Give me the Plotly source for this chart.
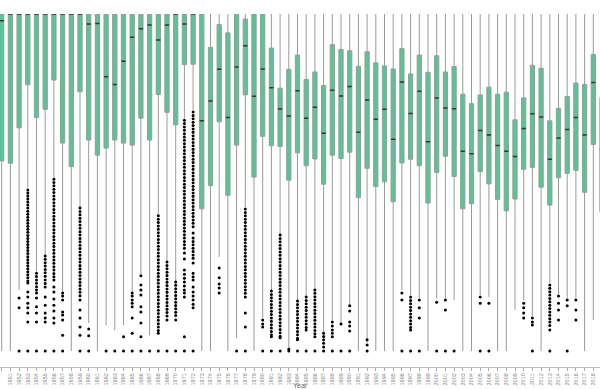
import plotly.graph_objects as go

years = [1950, 1951, 1952, 1953, 1954, 1955, 1956, 1957, 1958, 1959,
         1960, 1961, 1962, 1963, 1964, 1965, 1966, 1967, 1968, 1969,
         1970, 1971, 1972, 1973, 1974, 1975, 1976, 1977, 1978, 1979,
         1980, 1981, 1982, 1983, 1984, 1985, 1986, 1987, 1988, 1989,
         1990, 1991, 1992, 1993, 1994, 1995, 1996, 1997, 1998, 1999,
         2000, 2001, 2002, 2003, 2004, 2005, 2006, 2007, 2008, 2009,
         2010, 2011, 2012, 2013, 2014, 2015, 2016, 2017, 2018, 2019]

upper = [100.0] * 70

q3 = [100, 100, 100, 100, 100, 100, 100, 100, 100, 100,
      100, 100, 100, 100, 100, 100, 100, 100, 100, 100,
      100, 100, 100, 100, 90.1, 96.9, 94.4, 100, 98.5, 100,
      100, 89.9, 78.0, 83.6, 87.8, 80.6, 82.8, 78.8, 90.9, 89.5,
      89.1, 84.5, 88.8, 85.5, 84.6, 83.7, 89.7, 82.2, 87.8, 82.7,
      87.6, 82.8, 84.4, 76.2, 73.4, 76.0, 78.3, 76.2, 76.8, 68.6,
      75.1, 84.8, 83.9, 68.3, 72.0, 75.5, 79.5, 79.1, 88.0, 75.2]

median = [98.0, 100, 100, 100, 100, 100, 100, 100, 100, 100,
          97.0, 97.2, 81.4, 79.1, 86.0, 93.1, 95.6, 96.7, 92.3, 96.7,
          100, 97.0, 100, 68.3, 74.2, 83.6, 69.3, 84.3, 90.6, 75.6,
          83.7, 78.1, 71.8, 69.7, 77.2, 69.1, 72.3, 64.6, 77.4, 75.7,
          78.5, 64.9, 74.5, 68.8, 71.7, 62.8, 79.8, 70.5, 77.1, 62.1,
          75.1, 72.1, 71.9, 59.3, 58.5, 65.4, 64.1, 61.0, 59.3, 57.7,
          66.0, 70.4, 69.4, 56.9, 63.2, 65.7, 69.3, 64.1, 79.7, 59.6]

q1 = [56.4, 55.7, 66.2, 79.0, 69.3, 71.7, 80.4, 61.7, 54.7, 76.9,
      62.6, 58.1, 60.2, 62.6, 61.7, 61.1, 69.1, 62.6, 76.1, 70.8,
      67.1, 85.0, 85.1, 42.2, 49.1, 68.0, 46.2, 61.1, 76.0, 51.6,
      63.7, 60.9, 60.7, 50.7, 58.8, 55.0, 57.0, 49.5, 58.1, 57.1,
      59.0, 45.5, 54.2, 48.8, 50.2, 44.3, 55.8, 56.9, 55.0, 43.9,
      53.0, 57.8, 51.8, 42.2, 43.7, 53.3, 49.6, 45.0, 41.6, 45.1,
      53.9, 54.5, 48.6, 43.3, 51.4, 52.7, 53.6, 47.1, 61.3, 41.3]

lower = [0, 0, 18.1, 48.4, 23.7, 28.5, 51.3, 17.5, 0, 42.7,
         8.3, 0, 7.7, 6.2, 7.7, 17.5, 22.8, 4.7, 40.4, 26.7,
         20.8, 69.1, 71.5, 0, 0, 27.9, 0, 3.9, 42.7, 0,
         9.8, 18.1, 34.7, 1.2, 15.1, 16.3, 18.4, 5.6, 9.2, 8.3,
         13.6, 0, 2.4, 0, 0, 0, 18.1, 16.6, 15.7, 0,
         15.7, 15.7, 15.1, 0, 0, 16.6, 16.0, 0, 0, 12.2,
         15.1, 10.4, 0, 20.2, 16.9, 15.7, 15.7, 0, 9.2, 0]

# outlier values per year (same order as years)
outliers = [
    [], [],
    [15.7, 12.8, 0],
    [47.8, 46.9, 46.0, 45.1, 44.2, 43.3, 42.4, 41.5, 40.6, 39.7, 38.8, 37.9, 37.0, 36.1, 35.2, 34.3,
     33.4, 32.5, 31.6, 30.7, 29.8, 28.9, 28.0, 27.1, 26.2, 25.3, 24.4, 23.5, 22.6, 21.7, 20.8, 20.2,
     17.5, 16.0, 14.2, 12.8, 11.3, 8.6, 0],
    [23.1, 22.1, 21.1, 20.1, 19.1, 18.1, 17.2, 15.7, 13.1, 11.3, 8.6, 0],
    [28.2, 27.2, 26.2, 25.2, 24.2, 23.2, 22.2, 21.1, 20.0, 19.0, 16.0, 13.6, 11.3, 9.8, 8.6, 0],
    [51.0, 50.0, 49.0, 48.0, 47.0, 46.0, 45.0, 44.0, 43.0, 42.0, 41.0, 40.0, 39.0, 38.0, 37.0, 36.0,
     35.0, 34.0, 33.0, 32.0, 31.0, 30.0, 29.0, 28.0, 27.0, 26.0, 25.0, 24.0, 23.0, 22.0, 21.1,
     19.0, 17.5, 15.4, 13.6, 11.9, 9.8, 8.3, 0],
    [17.2, 16.3, 15.1, 11.6, 10.7, 9.2, 4.7, 0],
    [],
    [42.4, 41.4, 40.4, 39.4, 38.4, 37.4, 36.4, 35.4, 34.4, 33.4, 32.4, 31.4, 30.4, 29.4, 28.4, 27.4,
     26.4, 25.4, 24.4, 23.4, 22.4, 21.4, 20.4, 19.4, 18.4, 17.4, 16.4, 15.1, 12.2, 9.8, 7.1, 4.7, 0],
    [6.5, 4.5, 0],
    [],
    [0],
    [0],
    [4.2, 0],
    [17.2, 16.3, 15.1, 14.2, 13.1, 9.8, 5.3, 0],
    [22.3, 19.6, 18.1, 16.6, 13.1, 11.6, 8.3, 4.2, 0],
    [0],
    [40.1, 39.1, 38.1, 37.1, 36.1, 35.1, 34.1, 33.1, 32.1, 31.1, 30.1, 29.1, 28.1, 27.1, 26.1, 25.1,
     24.1, 23.1, 22.1, 21.1, 20.1, 19.1, 18.1, 17.1, 16.1, 15.1, 14.1, 13.1, 12.1, 11.1, 10.1, 9.1,
     8.1, 7.1, 6.1, 5.3, 0],
    [26.4, 25.4, 24.4, 23.4, 22.4, 21.4, 20.4, 19.4, 18.4, 17.4, 16.4, 15.4, 14.4, 13.4, 12.4, 11.4,
     10.4, 9.2, 0],
    [20.5, 19.5, 18.5, 17.5, 16.5, 15.5, 14.5, 13.5, 12.5, 11.5, 10.5, 9.2, 0],
    [68.5, 67.5, 66.5, 65.5, 64.5, 63.5, 62.5, 61.5, 60.5, 59.5, 58.5, 57.5, 56.5, 55.5, 54.5, 53.5,
     52.5, 51.5, 50.5, 49.5, 48.5, 47.5, 46.5, 45.5, 44.5, 43.5, 42.5, 41.5, 40.5, 39.5, 38.5, 37.5,
     36.5, 35.5, 34.5, 33.5, 32.5, 31.5, 30.5, 29.1, 27.3, 24.0, 22.8, 21.6, 20.5, 19.3, 18.1, 17.2,
     16.0, 4.2, 0],
    [70.9, 69.9, 68.9, 67.9, 66.9, 65.9, 64.9, 63.9, 62.9, 61.9, 60.9, 59.9, 58.9, 57.9, 56.9, 55.9,
     54.9, 53.9, 52.9, 51.9, 50.9, 49.9, 48.9, 47.9, 46.9, 45.9, 44.9, 43.9, 42.9, 41.9, 40.9, 39.9,
     38.9, 37.9, 36.9, 35.0, 33.5, 32.5, 31.5, 30.5, 29.5, 28.5, 27.5, 26.1, 23.1, 22.0, 21.1, 19.0,
     17.5, 16.3, 15.1, 13.9, 12.8, 0],
    [], [],
    [24.6, 21.7, 19.9, 18.7, 17.2],
    [],
    [0],
    [42.1, 41.1, 40.1, 39.1, 38.1, 37.1, 36.1, 35.1, 34.1, 33.1, 32.1, 31.1, 30.1, 29.1, 28.1, 27.1,
     26.1, 25.1, 24.1, 23.1, 22.1, 21.1, 20.1, 19.1, 18.1, 17.1, 16.0, 11.3, 7.1, 0],
    [],
    [9.2, 8.0, 7.1, 0],
    [17.8, 16.8, 15.8, 14.8, 13.8, 12.8, 11.8, 10.8, 9.8, 8.8, 7.8, 6.8, 5.8, 4.8, 4.2, 0],
    [34.4, 33.4, 32.4, 31.4, 30.4, 29.4, 28.4, 27.4, 26.4, 25.4, 24.4, 23.4, 22.4, 21.4, 20.4, 19.4,
     18.4, 17.4, 16.4, 15.4, 14.4, 13.4, 12.4, 11.4, 10.4, 9.4, 8.4, 7.4, 6.4, 5.4, 4.4, 3.9, 0],
    [0.6, 0],
    [14.8, 13.8, 12.8, 11.8, 10.8, 9.8, 8.8, 7.8, 6.8, 5.8, 4.8, 3.8, 3.3, 0],
    [16.0, 15.0, 14.0, 13.0, 12.0, 11.0, 10.0, 9.0, 8.0, 7.0, 6.2, 0],
    [18.1, 17.1, 16.1, 15.1, 14.1, 13.1, 12.1, 11.1, 10.1, 9.1, 8.1, 7.1, 6.1, 5.1, 4.2, 0],
    [5.3, 4.3, 3.3, 2.3, 1.2, 0],
    [8.6, 7.4, 6.2, 5.3, 4.2, 0],
    [8.0, 0],
    [13.4, 11.9, 8.6, 7.4, 5.9, 0],
    [],
    [3.3, 1.8, 0],
    [], [], [],
    [17.2, 15.1, 0],
    [16.0, 15.0, 14.0, 13.0, 12.0, 11.0, 10.0, 9.0, 8.0, 7.0, 6.2, 0],
    [15.1, 12.8, 9.8, 0],
    [],
    [14.5, 0],
    [15.1, 12.2, 0],
    [0],
    [], [],
    [16.0, 14.2, 0],
    [14.2, 0],
    [], [], [],
    [14.2, 12.8, 11.3, 9.8],
    [9.8, 8.6, 7.7, 0],
    [],
    [19.6, 18.6, 17.6, 16.6, 15.6, 14.6, 13.6, 12.6, 11.6, 10.6, 9.6, 8.6, 7.6, 6.2, 0],
    [16.3, 14.2, 12.2, 9.2],
    [15.1, 13.4, 0],
    [15.1, 12.2, 9.2],
    [], [], [],
]

out_x = []
out_y = []
for yr, vals in zip(years, outliers):
    for v in vals:
        out_x.append(yr)
        out_y.append(v)

fig = go.Figure()
# boxes and whiskers
fig.add_trace(go.Box(
    x=years, q1=q1, median=median, q3=q3,
    lowerfence=lower, upperfence=upper,
    fillcolor="#57c596",
    line=dict(color="#9a9a9a", width=1),
    whiskerwidth=0,
    boxpoints=False,
    showlegend=False, hoverinfo="skip",
))
# dark median bars (degenerate boxes drawn at the median)
fig.add_trace(go.Box(
    x=years, q1=median, median=median, q3=median,
    lowerfence=median, upperfence=median,
    fillcolor="rgba(0,0,0,0)",
    line=dict(color="#2f3a35", width=1.5),
    whiskerwidth=0,
    boxpoints=False,
    showlegend=False, hoverinfo="skip",
))
fig.add_trace(go.Scatter(
    x=out_x, y=out_y, mode="markers",
    marker=dict(color="black", size=3),
    showlegend=False, hoverinfo="skip",
))

fig.update_layout(
    width=600, height=390,
    margin=dict(l=0, r=0, t=14, b=23),
    paper_bgcolor="white", plot_bgcolor="white",
    boxmode="overlay",
    boxgap=0.3,
    hovermode=False,
    xaxis=dict(
        range=[years[0] - 0.195, years[0] + 68.77],
        tickmode="array", tickvals=years, ticktext=[str(y) for y in years],
        tickangle=-90, tickfont=dict(size=5.5, color="#888888", family="Arial"),
        ticks="outside", ticklen=3, tickcolor="#aaaaaa",
        showline=True, linecolor="#bbbbbb", linewidth=1,
        showgrid=False, zeroline=False, automargin=False,
    ),
    yaxis=dict(
        range=[-4.75, 100.0], showticklabels=False, showgrid=False,
        zeroline=False, showline=False, ticks="", automargin=False,
    ),
    annotations=[dict(
        text="Year", x=0.5, y=-0.051, xref="paper", yref="paper",
        showarrow=False, yanchor="middle",
        font=dict(size=7, color="#666666", family="Arial"),
    )],
)

fig.write_html("out.html", config={"displayModeBar": False},
               post_script="document.body.style.margin='0';")
